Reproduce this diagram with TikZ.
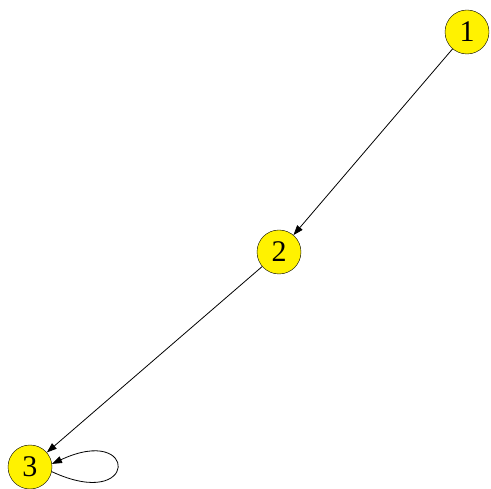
\documentclass[tikz,border=0pt]{standalone}
\usepackage{fontspec}
\setmainfont{Liberation Serif}
\usetikzlibrary{arrows.meta}

\tikzset{
  vertex/.style={circle, draw=black, fill=yellow, minimum size=44pt, inner sep=0pt,
    font=\fontsize{30}{30}\selectfont},
  arc/.style={-{Triangle[length=10pt,width=7pt]}, line width=0.8pt}
}

\begin{document}
\begin{tikzpicture}[x=1pt,y=-1pt]
    % Frame
    \useasboundingbox (0,0) rectangle (491,489);

    % Vertices
    \node[vertex] (v1) at (467,32) {1};
    \node[vertex] (v2) at (279,252) {2};
    \node[vertex] (v3) at (30,467) {3};

    % Arcs
    \draw[arc] (v1) -- (v2);
    \draw[arc] (v2) -- (v3);

    % Self loop
    \draw[arc] (v3.-12) to[out=-25, in=25, min distance=96pt] (v3.8);

\end{tikzpicture}
\end{document}
